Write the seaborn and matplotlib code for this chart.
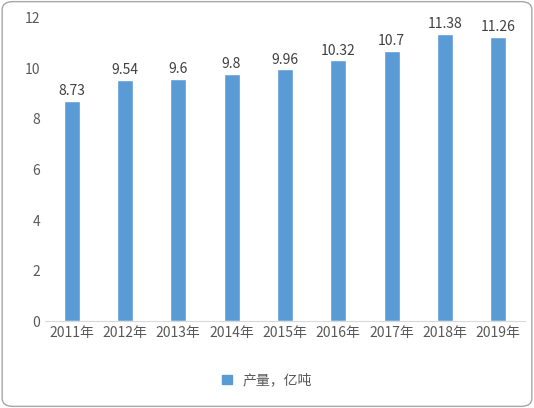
import matplotlib
matplotlib.use("Agg")
import matplotlib.pyplot as plt
import seaborn as sns
import pandas as pd
from matplotlib.patches import FancyBboxPatch

years = ["2011年","2012年","2013年","2014年","2015年","2016年","2017年","2018年","2019年"]
values = [8.73, 9.54, 9.6, 9.8, 9.96, 10.32, 10.7, 11.38, 11.26]
labels = ["8.73","9.54","9.6","9.8","9.96","10.32","10.7","11.38","11.26"]
series = "产量，亿吨"

sns.set_style("white")
plt.rcParams['font.family'] = ['Noto Sans CJK SC', 'DejaVu Sans']

df = pd.DataFrame({"year": years, "v": values, "s": series})
fig = plt.figure(figsize=(5.34, 4.08), dpi=100)
ax = fig.add_axes([0.084, 0.213, 0.899, 0.743])
sns.barplot(data=df, x="year", y="v", hue="s", palette=["#5B9BD5"], width=0.3,
            saturation=1, ax=ax, legend=False)
for c in ax.containers:
    ax.bar_label(c, labels=labels, padding=2, fontsize=10, color="#404040")
ax.set_ylim(0, 12)
ax.set_yticks(range(0, 13, 2))
ax.set_xlabel(""); ax.set_ylabel("")
ax.tick_params(axis="both", labelsize=10, colors="#595959", length=0)
for s in ["top", "right", "left"]:
    ax.spines[s].set_visible(False)
ax.spines["bottom"].set_color("#D9D9D9")
h = plt.Rectangle((0, 0), 1, 1, color="#5B9BD5")
fig.legend([h], [series], loc="center", bbox_to_anchor=(0.5, 0.068), frameon=False,
           fontsize=10, handlelength=0.7, handleheight=0.7, labelcolor="#595959")
fig.patches.append(FancyBboxPatch((0.004, 0.004), 0.992, 0.992, boxstyle="round,pad=0,rounding_size=0.02",
                                  transform=fig.transFigure, fill=False, edgecolor="#A6A6A6", lw=1))
fig.savefig("out.png", dpi=100)
